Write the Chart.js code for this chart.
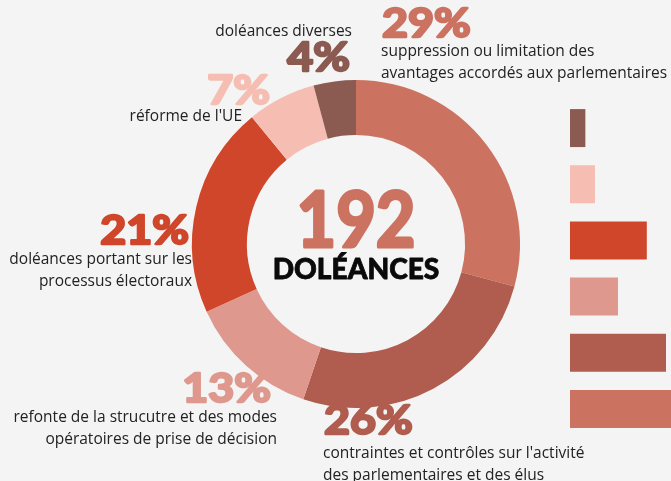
<!DOCTYPE html>
<html>
<head>
<meta charset="utf-8">
<script src="https://cdn.jsdelivr.net/npm/chart.js@4"></script>
<style>
  html,body{margin:0;padding:0;background:#f3f4f3;overflow:hidden}
  #wrap{position:relative;width:671px;height:481px;overflow:hidden}
  #donut{position:absolute;left:0;top:0}
  #bars{position:absolute;left:570px;top:100px}
</style>
</head>
<body>
<div id="wrap">
  <canvas id="donut" width="671" height="481"></canvas>
  <canvas id="bars" width="120" height="337"></canvas>
</div>
<script>
/* DATA */
const categories = [
  "suppression ou limitation des avantages accordés aux parlementaires",
  "contraintes et contrôles sur l'activité des parlementaires et des élus",
  "refonte de la strucutre et des modes opératoires de prise de décision",
  "doléances portant sur les processus électoraux",
  "réforme de l'UE",
  "doléances diverses"
];
const counts = [56, 50, 25, 40, 13, 8];
const percents = ["29%", "26%", "13%", "21%", "7%", "4%"];
const total = 192;
const totalLabel = "DOLÉANCES";
const colors = ["#cc7261", "#b05c4f", "#df988d", "#cf462b", "#f6bdb2", "#8b5a51"];

/* LAYOUT of the annotations (positions only) */
const labelLayout = [
  { x: 381, pctY: 38, align: "left",  lines: ["suppression ou limitation des", "avantages accordés aux parlementaires"], textY: 56, pctX: 382 },
  { x: 323, pctY: 435, align: "left", lines: ["contraintes et contrôles sur l'activité", "des parlementaires et des élus"], textY: 458, pctX: 324 },
  { x: 277, pctY: 403, align: "right", lines: ["refonte de la strucutre et des modes", "opératoires de prise de décision"], textY: 422, pctX: 271 },
  { x: 192, pctY: 245, align: "right", lines: ["doléances portant sur les", "processus électoraux"], textY: 264, pctX: 189 },
  { x: 242, pctY: 105, align: "right", lines: ["réforme de l'UE"], textY: 121, pctX: 270 },
  { x: 352, pctY: 72, align: "right", lines: ["doléances diverses"], textY: 36, pctX: 350 }
];

const PCT_FONT = "bold 40px Lato, 'DejaVu Sans', sans-serif";
const TXT_FONT = "15.5px 'Open Sans', 'Noto Sans', sans-serif";

// heavy display text: slight horizontal stretch plus a same-colour stroke
function heavyText(ctx, s, x, y, sx, lw){
  ctx.save();
  ctx.translate(x, y);
  ctx.scale(sx, 1);
  ctx.lineJoin = "round";
  ctx.lineWidth = lw;
  ctx.strokeStyle = ctx.fillStyle;
  ctx.strokeText(s, 0, 0);
  ctx.fillText(s, 0, 0);
  ctx.restore();
}

const annotations = {
  id: "annotations",
  afterDraw(chart){
    const ctx = chart.ctx;
    ctx.save();
    ctx.textBaseline = "alphabetic";
    labelLayout.forEach((l, i)=>{
      ctx.textAlign = l.align;
      ctx.font = PCT_FONT;
      ctx.fillStyle = colors[i];
      heavyText(ctx, percents[i], l.pctX || l.x, l.pctY - 1, 1.12, 2.4);
      ctx.font = TXT_FONT;
      ctx.fillStyle = "#222";
      l.lines.forEach((s, j)=> ctx.fillText(s, l.x, l.textY + j*22));
    });
    // centre
    const a = chart.chartArea, cx = (a.left + a.right)/2;
    ctx.textAlign = "center";
    ctx.font = "bold 76px Lato, 'DejaVu Sans', sans-serif";
    ctx.fillStyle = colors[0];
    heavyText(ctx, String(total), cx, 247, 0.9, 3.2);
    ctx.font = "900 29px Lato, 'DejaVu Sans', sans-serif";
    ctx.fillStyle = "#0a0a0a";
    heavyText(ctx, totalLabel, cx, 279, 0.97, 0.8);
    ctx.restore();
  }
};

new Chart(document.getElementById("donut"), {
  type: "doughnut",
  data: { labels: categories, datasets: [{ data: counts, backgroundColor: colors, borderWidth: 0 }] },
  options: {
    responsive: false, animation: false, cutout: "66.5%",
    layout: { padding: { left: 192, right: 151, top: 80, bottom: 73 } },
    plugins: { legend: { display: false }, tooltip: { enabled: false } }
  },
  plugins: [annotations]
});

// bar chart: reversed order (smallest category on top)
const barLabels = categories.slice().reverse();
const barValues = counts.slice().reverse();
const barColors = colors.slice().reverse();

new Chart(document.getElementById("bars"), {
  type: "bar",
  data: { labels: barLabels, datasets: [{ data: barValues, backgroundColor: barColors, borderWidth: 0, barPercentage: 0.676, categoryPercentage: 1 }] },
  options: {
    indexAxis: "y", responsive: false, animation: false,
    layout: { padding: 0 },
    scales: {
      x: { display: false, min: 0, max: 62.5 },
      y: { display: false }
    },
    plugins: { legend: { display: false }, tooltip: { enabled: false } }
  }
});
</script>
</body>
</html>
